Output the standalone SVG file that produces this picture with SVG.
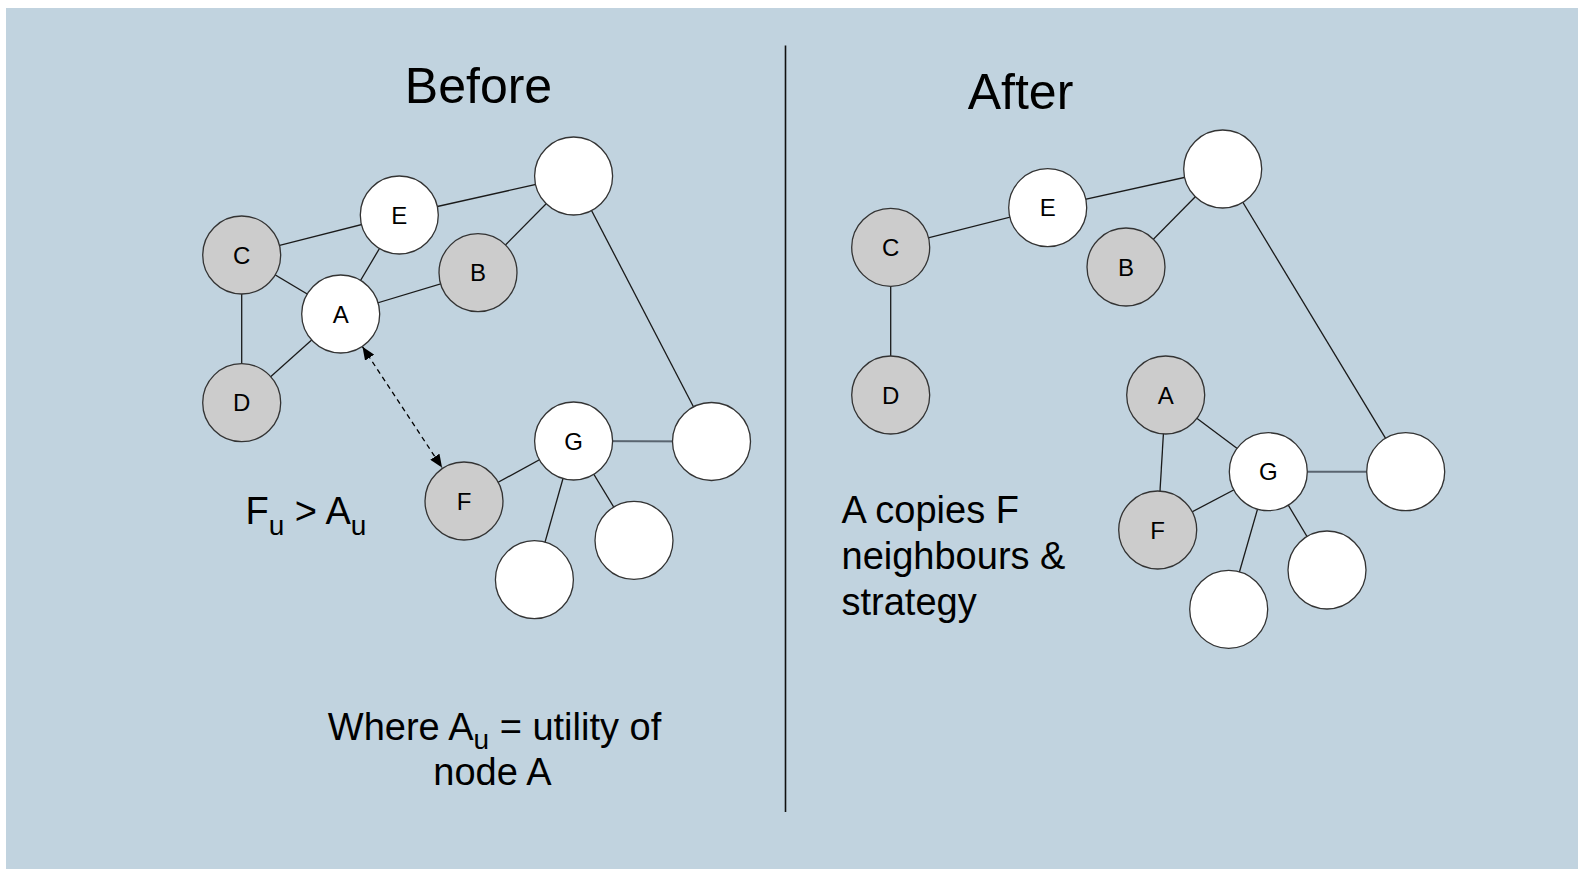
<svg xmlns="http://www.w3.org/2000/svg" width="1578" height="869" viewBox="0 0 1578 869">
  <style>
    .panel { fill: #c1d3df; }
    .edge { stroke: #1a1a1a; stroke-width: 1.3; fill: none; }
    .edge-soft { stroke: #5a6570; stroke-width: 2; fill: none; }
    .node-w { fill: #ffffff; stroke: #333333; stroke-width: 1.3; }
    .node-g { fill: #cccccc; stroke: #333333; stroke-width: 1.3; }
    .lbl { font-family: "Liberation Sans", Arial, sans-serif; font-size: 24px; fill: #000; text-anchor: middle; }
    .title { font-family: "Liberation Sans", Arial, sans-serif; font-size: 50px; fill: #000; text-anchor: middle; }
    .note { font-family: "Liberation Sans", Arial, sans-serif; font-size: 38px; fill: #000; }
    .sub { font-size: 28px; }
    .link { stroke: #000; stroke-width: 1.3; stroke-dasharray: 5 4; fill: none; }
  </style>
  <defs>
    <marker id="tip" viewBox="0 0 13 11" refX="13" refY="5.5" markerWidth="13" markerHeight="11" markerUnits="userSpaceOnUse" orient="auto-start-reverse">
      <path d="M0,0 L13,5.5 L0,11 z" fill="#000"/>
    </marker>
  </defs>

  <rect class="panel" x="6" y="8" width="1572" height="861"/>

  <!-- divider between the two panels -->
  <line x1="785.5" y1="45.5" x2="785.5" y2="812" stroke="#111" stroke-width="1.6"/>

  <!-- titles -->
  <text class="title" x="478.5" y="102.5">Before</text>
  <text class="title" x="1020.5" y="108.5">After</text>

  <!-- connectors, left network -->
  <g id="edges-before">
    <line class="edge" x1="241.7" y1="255" x2="399.3" y2="215"/>
    <line class="edge" x1="399.3" y1="215" x2="573.6" y2="176"/>
    <line class="edge" x1="241.7" y1="255" x2="340.7" y2="314"/>
    <line class="edge" x1="399.3" y1="215" x2="340.7" y2="314"/>
    <line class="edge" x1="340.7" y1="314" x2="478" y2="272.7"/>
    <line class="edge" x1="478" y1="272.7" x2="573.6" y2="176"/>
    <line class="edge" x1="241.7" y1="255" x2="241.7" y2="402.7"/>
    <line class="edge" x1="340.7" y1="314" x2="241.7" y2="402.7"/>
    <line class="edge" x1="573.6" y1="176" x2="711.5" y2="441.5"/>
    <line class="edge-soft" x1="573.6" y1="441" x2="711.5" y2="441.5"/>
    <line class="edge" x1="573.6" y1="441" x2="464" y2="501"/>
    <line class="edge" x1="573.6" y1="441" x2="634" y2="540.4"/>
    <line class="edge" x1="573.6" y1="441" x2="534.4" y2="579.7"/>
    <line class="link" x1="362.5" y1="346.8" x2="442" y2="467.5" marker-start="url(#tip)" marker-end="url(#tip)"/>
  </g>

  <!-- connectors, right network -->
  <g id="edges-after">
    <line class="edge" x1="890.7" y1="247.3" x2="1047.7" y2="207.7"/>
    <line class="edge" x1="1047.7" y1="207.7" x2="1222.7" y2="169"/>
    <line class="edge" x1="1126" y1="267" x2="1222.7" y2="169"/>
    <line class="edge" x1="890.7" y1="247.3" x2="890.7" y2="395"/>
    <line class="edge" x1="1222.7" y1="169" x2="1405.7" y2="471.7"/>
    <line class="edge" x1="1165.7" y1="395" x2="1268.3" y2="471.7"/>
    <line class="edge" x1="1165.7" y1="395" x2="1157.7" y2="530"/>
    <line class="edge" x1="1157.7" y1="530" x2="1268.3" y2="471.7"/>
    <line class="edge-soft" x1="1268.3" y1="471.7" x2="1405.7" y2="471.7"/>
    <line class="edge" x1="1268.3" y1="471.7" x2="1327" y2="570"/>
    <line class="edge" x1="1268.3" y1="471.7" x2="1228.7" y2="609.3"/>
  </g>

  <!-- left network nodes -->
  <g id="b-C"><circle class="node-g" cx="241.7" cy="255" r="39"/><text class="lbl" x="241.7" y="263.5">C</text></g>
  <g id="b-E"><circle class="node-w" cx="399.3" cy="215" r="39"/><text class="lbl" x="399.3" y="223.5">E</text></g>
  <g id="b-A"><circle class="node-w" cx="340.7" cy="314" r="39"/><text class="lbl" x="340.7" y="322.5">A</text></g>
  <g id="b-B"><circle class="node-g" cx="478" cy="272.7" r="39"/><text class="lbl" x="478" y="281.2">B</text></g>
  <g id="b-D"><circle class="node-g" cx="241.7" cy="402.7" r="39"/><text class="lbl" x="241.7" y="411.2">D</text></g>
  <g id="b-top"><circle class="node-w" cx="573.6" cy="176" r="39"/></g>
  <g id="b-G"><circle class="node-w" cx="573.6" cy="441" r="39"/><text class="lbl" x="573.6" y="449.5">G</text></g>
  <g id="b-right"><circle class="node-w" cx="711.5" cy="441.5" r="39"/></g>
  <g id="b-F"><circle class="node-g" cx="464" cy="501" r="39"/><text class="lbl" x="464" y="509.5">F</text></g>
  <g id="b-low1"><circle class="node-w" cx="634" cy="540.4" r="39"/></g>
  <g id="b-low2"><circle class="node-w" cx="534.4" cy="579.7" r="39"/></g>

  <!-- right network nodes -->
  <g id="a-C"><circle class="node-g" cx="890.7" cy="247.3" r="39"/><text class="lbl" x="890.7" y="255.8">C</text></g>
  <g id="a-E"><circle class="node-w" cx="1047.7" cy="207.7" r="39"/><text class="lbl" x="1047.7" y="216.2">E</text></g>
  <g id="a-B"><circle class="node-g" cx="1126" cy="267" r="39"/><text class="lbl" x="1126" y="275.5">B</text></g>
  <g id="a-top"><circle class="node-w" cx="1222.7" cy="169" r="39"/></g>
  <g id="a-D"><circle class="node-g" cx="890.7" cy="395" r="39"/><text class="lbl" x="890.7" y="403.5">D</text></g>
  <g id="a-A"><circle class="node-g" cx="1165.7" cy="395" r="39"/><text class="lbl" x="1165.7" y="403.5">A</text></g>
  <g id="a-G"><circle class="node-w" cx="1268.3" cy="471.7" r="39"/><text class="lbl" x="1268.3" y="480.2">G</text></g>
  <g id="a-right"><circle class="node-w" cx="1405.7" cy="471.7" r="39"/></g>
  <g id="a-F"><circle class="node-g" cx="1157.7" cy="530" r="39"/><text class="lbl" x="1157.7" y="538.5">F</text></g>
  <g id="a-low1"><circle class="node-w" cx="1327" cy="570" r="39"/></g>
  <g id="a-low2"><circle class="node-w" cx="1228.7" cy="609.3" r="39"/></g>

  <!-- annotations -->
  <text class="note" x="245.5" y="524.3">F<tspan class="sub" dy="10.5">u</tspan><tspan dy="-10.5"> &gt; A</tspan><tspan class="sub" dy="10.5">u</tspan></text>
  <text class="note" x="494.5" y="739.5" text-anchor="middle">Where A<tspan class="sub" dy="9.5">u</tspan><tspan dy="-9.5"> = utility of</tspan></text>
  <text class="note" x="492.5" y="785" text-anchor="middle">node A</text>
  <text class="note" x="841.5" y="523.3">A copies F</text>
  <text class="note" x="841.5" y="569.3">neighbours &amp;</text>
  <text class="note" x="841.5" y="614.8">strategy</text>
</svg>
